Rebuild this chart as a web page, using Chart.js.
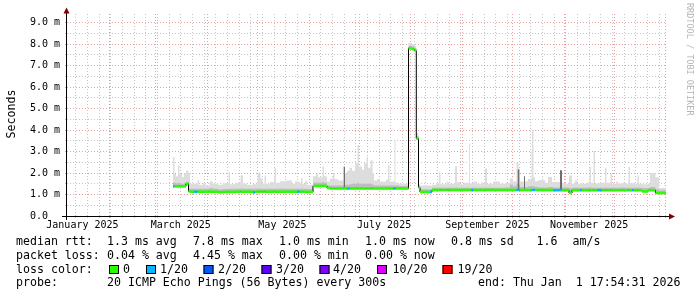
<!DOCTYPE html>
<html><head><meta charset="utf-8">
<style>html,body{margin:0;padding:0;background:#fff;overflow:hidden}canvas{display:block}</style>
<script src="https://cdn.jsdelivr.net/npm/chart.js@4/dist/chart.umd.min.js"></script>
</head><body>
<canvas id="c" width="697" height="297"></canvas>
<script>
// ---- data (x = day of year 2025, local time; y = milliseconds) ----
const sampleDay = [69.35,70.25,71.15,72.35,73.25,74.75,75.95,77.15,78.65,79.55,82.25,84.05,84.95,87.35,89.15,91.25,93.35,96.35,99.35,102.65,103.55,106.55,109.85,111.35,113.75,117.35,118.55,120.05,121.85,123.05,124.25,125.15,127.55,130.25,131.15,133.55,137.15,140.75,142.55,143.75,145.25,146.15,147.05,148.55,149.75,153.35,155.15,156.35,159.05,159.95,161.75,163.55,165.35,166.25,168.35,171.65,172.55,173.75,175.25,176.75,178.55,180.05,180.95,182.75,183.95,185.45,186.35,187.85,189.05,189.95,191.75,193.55,197.15,198.35,199.25,201.35,202.25,202.85,203.15,204.95,210.65,212.75,214.25,215.33,216.65,217.55,223.55,224.75,227.15,228.95,229.85,233.45,234.65,238.55,239.75,241.55,243.95,246.95,247.55,248.45,249.65,251.75,254.15,256.55,257.75,261.35,265.55,268.55,271.55,273.35,275.45,276.65,277.55,279.95,280.55,282.35,284.45,284.75,285.65,286.55,288.35,292.55,294.35,296.75,297.35,301.55,302.75,305.15,306.95,308.75,310.55,311.75,313.55,314.75,317.15,319.25,320.15,321.65,322.55,323.75,326.75,328.55,329.45,331.85,332.75,335.15,336.35,338.45,340.55,342.65,343.55,344.75,345.95,348.05,348.95,350.75,354.35,355.55,358.85,360.95,365.15];
const medianRtt = [1.38,1.38,1.38,1.38,1.38,1.38,1.38,1.50,1.15,1.13,1.13,1.13,1.13,1.13,1.13,1.13,1.13,1.11,1.12,1.12,1.12,1.13,1.13,1.13,1.13,1.10,1.13,1.13,1.13,1.13,1.13,1.13,1.13,1.13,1.13,1.13,1.13,1.13,1.13,1.13,1.13,1.13,1.13,1.12,1.12,1.40,1.40,1.40,1.40,1.40,1.30,1.28,1.28,1.28,1.28,1.28,1.28,1.28,1.28,1.28,1.28,1.28,1.28,1.28,1.28,1.28,1.28,1.28,1.28,1.28,1.28,1.28,1.28,1.28,1.28,1.28,1.28,1.28,1.28,1.28,7.80,7.76,7.70,3.60,1.33,1.12,1.12,1.21,1.21,1.21,1.21,1.21,1.21,1.21,1.21,1.21,1.21,1.21,1.21,1.21,1.21,1.21,1.21,1.21,1.21,1.21,1.21,1.21,1.21,1.21,1.21,1.21,1.21,1.21,1.21,1.21,1.21,1.21,1.21,1.21,1.21,1.21,1.21,1.21,1.20,1.20,1.20,1.20,1.07,1.20,1.20,1.20,1.20,1.20,1.20,1.20,1.20,1.20,1.20,1.20,1.20,1.20,1.20,1.20,1.20,1.20,1.20,1.20,1.20,1.20,1.20,1.20,1.20,1.20,1.20,1.14,1.20,1.20,1.07,1.07,1.07];
const smokeInner = [1.55,1.55,1.52,1.55,1.52,1.50,1.55,1.60,1.30,1.27,1.27,1.27,1.27,1.27,1.27,1.30,1.27,1.25,1.26,1.27,1.27,1.27,1.28,1.27,1.27,1.27,1.27,1.28,1.27,1.27,1.27,1.27,1.27,1.27,1.27,1.28,1.27,1.27,1.27,1.27,1.27,1.27,1.27,1.27,1.26,1.55,1.55,1.55,1.58,1.55,1.42,1.42,1.42,1.42,1.42,1.45,1.45,1.45,1.48,1.50,1.50,1.55,1.50,1.50,1.50,1.50,1.50,1.50,1.45,1.42,1.42,1.42,1.42,1.42,1.42,1.42,1.42,1.42,1.42,1.40,7.92,7.90,7.82,3.72,1.40,1.25,1.25,1.32,1.32,1.32,1.32,1.32,1.32,1.33,1.32,1.32,1.32,1.32,1.32,1.32,1.32,1.32,1.32,1.33,1.32,1.32,1.32,1.33,1.45,1.38,1.50,1.45,1.35,1.40,1.35,1.38,1.40,1.40,1.38,1.35,1.33,1.33,1.35,1.35,1.33,1.40,1.33,1.33,1.30,1.32,1.33,1.32,1.32,1.32,1.32,1.35,1.32,1.33,1.32,1.32,1.32,1.33,1.32,1.32,1.32,1.32,1.32,1.33,1.32,1.33,1.32,1.32,1.32,1.33,1.32,1.30,1.30,1.35,1.25,1.20,1.20];
const smokeMax = [2.75,1.95,1.85,2.35,1.95,1.80,1.98,2.12,2.00,1.50,1.50,1.66,1.45,1.52,1.42,1.60,1.50,1.45,1.52,2.05,1.48,1.55,1.90,1.50,1.45,1.50,1.48,2.02,1.75,1.50,1.88,1.50,1.58,2.24,1.55,1.62,1.65,1.50,1.60,1.60,1.55,1.78,1.50,1.62,1.45,1.85,1.95,1.80,2.32,1.85,1.60,1.75,2.00,1.72,1.65,2.29,1.95,2.10,2.25,2.10,2.45,3.30,2.30,2.15,2.45,2.75,2.25,2.60,2.00,1.65,1.72,1.60,1.70,2.36,1.60,1.60,3.53,1.55,1.55,1.50,8.05,8.00,7.92,3.85,1.48,1.42,1.42,1.45,1.52,2.05,1.48,1.60,1.50,2.32,1.58,1.48,1.55,3.37,1.52,1.52,1.60,1.50,1.56,2.21,1.50,1.60,1.50,1.55,1.75,1.60,2.52,2.20,1.60,1.85,1.62,1.72,3.06,4.03,1.80,1.62,1.66,1.55,1.82,1.58,1.58,2.13,1.52,1.50,1.88,1.50,1.66,1.50,1.55,1.50,1.55,2.29,1.55,3.03,1.50,1.52,1.55,2.25,1.55,1.98,1.50,1.60,1.50,1.55,1.50,2.29,1.52,1.52,1.50,1.88,1.50,1.48,1.50,2.00,1.80,1.30,1.30];
const lossCount = [1,0,0,0,0,0,0,0,0,0,1,0,0,0,0,0,0,0,0,0,0,0,0,0,0,1,0,0,0,0,0,0,0,0,0,0,0,0,0,1,0,0,0,0,0,0,0,0,0,0,0,0,0,0,0,0,0,1,0,0,0,0,0,0,0,0,0,0,0,0,0,0,0,0,0,1,1,1,0,0,0,0,0,0,0,0,1,0,0,0,0,0,0,0,0,0,0,0,0,1,0,0,0,0,0,0,0,0,0,0,1,1,0,0,0,0,1,1,1,0,0,0,0,0,1,1,0,0,0,0,0,0,1,0,0,0,0,0,0,1,0,0,0,0,0,0,0,0,0,0,0,1,0,0,0,0,0,0,0,0,0];
// dense (dark) smoke columns
const denseStart = [171.65, 276.05, 279.95, 301.55];
const denseEnd   = [172.55, 277.25, 280.55, 302.75];
const denseTop   = [2.29, 2.16, 1.85, 2.13];

// axis / tick definitions
const X_MIN = 5.746, X_MAX = 365.746;       // 360 days ending Thu Jan 1 17:54:31 2026
const Y_MAX = 9.4;
const monthStartDay = [0,31,59,90,120,151,181,212,243,273,304,334,365];
const monthLabelDay = [15,74,135,196,258,319];
const monthLabels = ['January 2025','March 2025','May 2025','July 2025','September 2025','November 2025'];
const firstSunday = 11;
const yGridStep = 0.5, yTop = 9;

// legend
const lossColors = ['#26ff00','#00b8ff','#0059ff','#5e00ff','#7e00ff','#dd00ff','#ff0000'];
const lossLabels = ['0','1/20','2/20','3/20','4/20','10/20','19/20'];
const rttStats = ['1.3 ms avg','7.8 ms max','1.0 ms min','1.0 ms now','0.8 ms sd','1.6'];
const lossStats = ['0.04 % avg','4.45 % max','0.00 % min','0.00 % now'];

const MINOR = 'rgba(150,150,150,0.55)';
const MAJOR = 'rgba(225,95,95,0.6)';
const FONT = '"DejaVu Sans Mono", monospace';

function lossColor(n){
  if (n <= 0) return lossColors[0];
  if (n <= 4) return lossColors[n];
  if (n <= 10) return lossColors[5];
  return lossColors[6];
}

// build tick tables
const xTickType = new Map();
for (let d = firstSunday; d <= X_MAX; d += 7) xTickType.set(d, 'week');
monthStartDay.forEach(d => { if (d >= X_MIN && d <= X_MAX) xTickType.set(d, 'month'); });
monthLabelDay.forEach(d => { if (!xTickType.has(d)) xTickType.set(d, 'label'); });
const labelByDay = new Map(monthLabelDay.map((d, i) => [d, monthLabels[i]]));
const xTickValues = [...xTickType.keys()].sort((a, b) => a - b);
const yTickValues = [];
for (let v = 0; v <= yTop + 1e-9; v += yGridStep) yTickValues.push(Math.round(v * 10) / 10);

// build datasets from the arrays
const medianPts = sampleDay.map((d, i) => ({x: d, y: medianRtt[i]}));
const innerPts = sampleDay.map((d, i) => ({x: d, y: smokeInner[i]}));
const maxPts = sampleDay.map((d, i) => ({x: d, y: smokeMax[i]}));
const coloredPts = [];
for (let i = 0; i < sampleDay.length - 1; i++) {
  coloredPts.push({x: sampleDay[i], y: medianRtt[i], loss: lossCount[i]});
  coloredPts.push({x: sampleDay[i + 1], y: medianRtt[i], loss: lossCount[i]});
  coloredPts.push({x: sampleDay[i + 1], y: null});
}
const densePts = [];
denseStart.forEach((s, i) => {
  densePts.push({x: s, y: denseTop[i]}, {x: denseEnd[i], y: denseTop[i]}, {x: denseEnd[i], y: null});
});

const decor = {
  id: 'decor',
  afterDatasetsDraw(chart) {
    const ctx = chart.ctx, a = chart.chartArea;
    ctx.save();
    ctx.strokeStyle = '#000';
    ctx.lineWidth = 1;
    ctx.beginPath();
    ctx.moveTo(62, a.bottom + 0.5); ctx.lineTo(670, a.bottom + 0.5);
    ctx.moveTo(a.left - 0.5, a.bottom + 4); ctx.lineTo(a.left - 0.5, 12);
    ctx.stroke();
    ctx.fillStyle = '#800000';
    ctx.beginPath();
    ctx.moveTo(a.left - 3.5, 13.5); ctx.lineTo(a.left + 2.5, 13.5); ctx.lineTo(a.left - 0.5, 7.5); ctx.closePath(); ctx.fill();
    ctx.beginPath();
    ctx.moveTo(669, a.bottom - 2.5); ctx.lineTo(669, a.bottom + 3.5); ctx.lineTo(675, a.bottom + 0.5); ctx.closePath(); ctx.fill();
    ctx.restore();
  },
  afterDraw(chart) {
    const ctx = chart.ctx;
    ctx.save();
    ctx.fillStyle = '#000';
    ctx.font = '11.6px ' + FONT;
    ctx.textBaseline = 'alphabetic';
    ctx.textAlign = 'left';
    // Seconds
    ctx.save();
    ctx.translate(15, 114); ctx.rotate(-Math.PI / 2);
    ctx.textAlign = 'center';
    ctx.fillText('Seconds', 0, 0);
    ctx.restore();
    const cols = [107, 193, 279, 365, 451, 536.5];
    const rows = [245, 258.8, 272.6, 286];
    ctx.fillText('median rtt:', 16, rows[0]);
    rttStats.forEach((t, i) => ctx.fillText(t, cols[i], rows[0]));
    ctx.fillText('am/s', 572.5, rows[0]);
    ctx.fillText('packet loss:', 16, rows[1]);
    lossStats.forEach((t, i) => ctx.fillText(t, cols[i], rows[1]));
    ctx.fillText('loss color:', 16, rows[2]);
    const boxX = [109, 146, 203.5, 261.5, 319.5, 377, 442.5];
    const labX = [123, 160, 218, 276, 333, 392.5, 457.5];
    lossLabels.forEach((t, i) => {
      ctx.fillStyle = lossColors[i];
      ctx.fillRect(boxX[i], 265, 10, 9);
      ctx.strokeStyle = '#000'; ctx.lineWidth = 1;
      ctx.strokeRect(boxX[i] + 0.5, 265.5, 9, 8);
      ctx.fillStyle = '#000';
      ctx.fillText(t, labX[i], rows[2]);
    });
    ctx.fillText('probe:', 16, rows[3]);
    ctx.fillText('20 ICMP Echo Pings (56 Bytes) every 300s', 107, rows[3]);
    ctx.fillText('end: Thu Jan  1 17:54:31 2026', 478, rows[3]);
    // watermark
    ctx.save();
    ctx.fillStyle = '#b4b4b4';
    ctx.font = '8.5px ' + FONT;
    ctx.translate(689, 3); ctx.rotate(Math.PI / 2);
    ctx.textBaseline = 'middle';
    ctx.fillText('RRDTOOL / TOBI OETIKER', 0, 0);
    ctx.restore();
    ctx.restore();
  }
};

Chart.defaults.font.family = FONT;
Chart.defaults.color = '#000';

new Chart(document.getElementById('c'), {
  type: 'line',
  data: {
    datasets: [
      { data: coloredPts, borderWidth: 2.6, borderColor: lossColors[0], spanGaps: false, fill: false,
        pointRadius: 0, borderCapStyle: 'butt',
        segment: { borderColor: c => lossColor(coloredPts[c.p0DataIndex].loss || 0) } },
      { data: medianPts, stepped: true, borderColor: '#000', borderWidth: 1, pointRadius: 0, fill: false },
      { data: densePts, stepped: true, borderWidth: 0, pointRadius: 0, spanGaps: false, backgroundColor: '#6e6e6e', fill: 1 },
      { data: innerPts, stepped: true, borderWidth: 0, pointRadius: 0, backgroundColor: '#bdbdbd', fill: 1 },
      { data: maxPts, stepped: true, borderWidth: 0, pointRadius: 0, backgroundColor: '#dddddd', fill: 1 }
    ]
  },
  options: {
    responsive: false, animation: false, devicePixelRatio: 1,
    layout: { padding: { top: 14, right: 30, left: 0, bottom: 0 } },
    plugins: { legend: { display: false }, tooltip: { enabled: false } },
    elements: { point: { radius: 0 } },
    scales: {
      x: {
        type: 'linear', min: X_MIN, max: X_MAX,
        afterBuildTicks: s => { s.ticks = xTickValues.map(v => ({value: v})); },
        afterFit: s => { s.height = 81; },
        ticks: { autoSkip: false, maxRotation: 0, padding: 1, font: { size: 10, family: FONT }, color: '#000',
          callback: v => labelByDay.get(v) || '' },
        grid: { lineWidth: 1, tickLength: 2,
          color: c => { const t = xTickType.get(c.tick && c.tick.value); return t === 'month' ? MAJOR : (t === 'week' ? MINOR : 'rgba(0,0,0,0)'); } },
        border: { display: false, dash: [1, 2] }
      },
      y: {
        type: 'linear', min: 0, max: Y_MAX,
        afterBuildTicks: s => { s.ticks = yTickValues.map(v => ({value: v})); },
        afterFit: s => { s.width = 67; },
        ticks: { autoSkip: false, padding: 5, font: { size: 10, family: FONT }, color: '#000',
          callback: v => Number.isInteger(v) ? (v === 0 ? '0.0  ' : v.toFixed(1) + ' m') : '' },
        grid: { lineWidth: 1, tickLength: 2,
          color: c => (c.tick && Number.isInteger(c.tick.value)) ? MAJOR : MINOR },
        border: { display: false, dash: [1, 2] }
      }
    }
  },
  plugins: [decor]
});
</script>
</body></html>
